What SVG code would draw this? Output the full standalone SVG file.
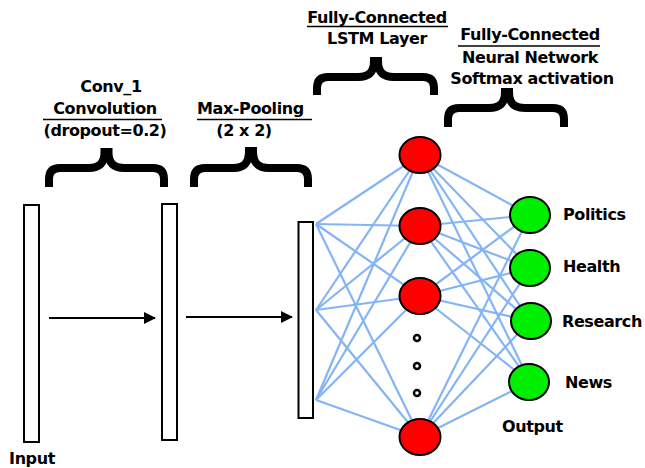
<svg xmlns="http://www.w3.org/2000/svg" width="645" height="468" viewBox="0 0 645 468">
<style>
.t{font-family:"DejaVu Sans","Liberation Sans",sans-serif;font-weight:bold;font-size:16px;letter-spacing:-0.4px;fill:#000}
.c{text-anchor:middle}
.ul{stroke:#000;stroke-width:1.5}
.brace{fill:none;stroke:#000;stroke-width:8;stroke-linejoin:miter}
.layer{fill:#fff;stroke:#000;stroke-width:2}
.red{fill:#ff0000;stroke:#000;stroke-width:2}
.green{fill:#00ee00;stroke:#000;stroke-width:2}
.dot{fill:#fff;stroke:#000;stroke-width:2.5}
.w{stroke:#85b4f5;stroke-width:2.2;fill:none}
.arr{stroke:#000;stroke-width:2;fill:none}
</style>
<defs>
<marker id="ah" markerWidth="12" markerHeight="12" refX="11" refY="6" orient="auto" markerUnits="userSpaceOnUse">
<path d="M0 0 L12 6 L0 12 Z" fill="#000"/>
</marker>
</defs>
<rect width="645" height="468" fill="#fff"/>

<g id="labels">
<text class="t c" x="111" y="92">Conv_1</text>
<text class="t c" x="105" y="114">Convolution</text>
<line class="ul" x1="43" y1="119.5" x2="162" y2="119.5"/>
<text class="t c" x="105" y="136">(dropout=0.2)</text>
<text class="t" x="197" y="114">Max-Pooling</text>
<line class="ul" x1="197" y1="119.5" x2="312" y2="119.5"/>
<text class="t c" x="244" y="136">(2 x 2)</text>
<text class="t c" x="377" y="23">Fully-Connected</text>
<line class="ul" x1="307" y1="26.5" x2="448" y2="26.5"/>
<text class="t c" x="377" y="44">LSTM Layer</text>
<text class="t c" x="530" y="40">Fully-Connected</text>
<line class="ul" x1="458" y1="46" x2="600" y2="46"/>
<text class="t c" x="530" y="63">Neural Network</text>
<text class="t c" x="532" y="84">Softmax activation</text>
</g>

<g id="braces">
<path class="brace" d="M49 187 V179 Q49 168 60 168 H88.5 C100.5 168 104.5 162 104.5 152 H108.5 C108.5 162 112.5 168 124.5 168 H153 Q164 168 164 179 V187"/>
<path class="brace" d="M194 187 V179 Q194 168 205 168 H233 C245 168 249 162 249 151 H253 C253 162 257 168 269 168 H297 Q308 168 308 179 V187"/>
<path class="brace" d="M317 95 V88 Q317 77 328 77 H358 C370 77 374 71 374 61 H378 C378 71 382 77 394 77 H423 Q434 77 434 88 V95"/>
<path class="brace" d="M448 127 V119 Q448 108 459 108 H489 C501 108 505 102 505 92 H509 C509 102 513 108 525 108 H553 Q564 108 564 119 V127"/>
</g>

<g id="connectors">
<line class="arr" x1="49" y1="318" x2="155" y2="318" marker-end="url(#ah)"/>
<line class="arr" x1="186" y1="317" x2="292" y2="317" marker-end="url(#ah)"/>
<g class="w">
<line x1="316" y1="224" x2="420" y2="155"/>
<line x1="316" y1="224" x2="420" y2="226"/>
<line x1="316" y1="224" x2="420" y2="296"/>
<line x1="316" y1="224" x2="420" y2="437"/>
<line x1="316" y1="310" x2="420" y2="155"/>
<line x1="316" y1="310" x2="420" y2="226"/>
<line x1="316" y1="310" x2="420" y2="296"/>
<line x1="316" y1="310" x2="420" y2="437"/>
<line x1="316" y1="400" x2="420" y2="155"/>
<line x1="316" y1="400" x2="420" y2="226"/>
<line x1="316" y1="400" x2="420" y2="296"/>
<line x1="316" y1="400" x2="420" y2="437"/>
<line x1="420" y1="155" x2="530" y2="215"/>
<line x1="420" y1="155" x2="530" y2="268"/>
<line x1="420" y1="155" x2="530" y2="321"/>
<line x1="420" y1="155" x2="530" y2="382"/>
<line x1="420" y1="226" x2="530" y2="215"/>
<line x1="420" y1="226" x2="530" y2="268"/>
<line x1="420" y1="226" x2="530" y2="321"/>
<line x1="420" y1="226" x2="530" y2="382"/>
<line x1="420" y1="296" x2="530" y2="215"/>
<line x1="420" y1="296" x2="530" y2="268"/>
<line x1="420" y1="296" x2="530" y2="321"/>
<line x1="420" y1="296" x2="530" y2="382"/>
<line x1="420" y1="437" x2="530" y2="215"/>
<line x1="420" y1="437" x2="530" y2="268"/>
<line x1="420" y1="437" x2="530" y2="321"/>
<line x1="420" y1="437" x2="530" y2="382"/>
</g>
</g>

<g id="input"><rect class="layer" x="24" y="205" width="15" height="237"/><text class="t c" x="32" y="464">Input</text></g>
<g id="conv"><rect class="layer" x="162" y="204" width="15" height="236"/></g>
<g id="pool"><rect class="layer" x="298.5" y="222" width="14.5" height="196"/></g>

<g id="lstm1"><ellipse class="red" cx="420" cy="155" rx="20.5" ry="18"/></g>
<g id="lstm2"><ellipse class="red" cx="420" cy="226" rx="20.5" ry="18"/></g>
<g id="lstm3"><ellipse class="red" cx="420" cy="296" rx="20.5" ry="18"/></g>
<g id="lstm4"><ellipse class="red" cx="420" cy="437" rx="20.5" ry="18"/></g>
<g id="dots">
<circle class="dot" cx="417" cy="338" r="3"/>
<circle class="dot" cx="417" cy="366" r="3"/>
<circle class="dot" cx="417" cy="393" r="3"/>
</g>

<g id="politics"><ellipse class="green" cx="530" cy="215" rx="20" ry="18"/><text class="t" x="563" y="220">Politics</text></g>
<g id="health"><ellipse class="green" cx="530" cy="268" rx="20" ry="18"/><text class="t" x="563" y="272">Health</text></g>
<g id="research"><ellipse class="green" cx="531" cy="321" rx="20" ry="18"/><text class="t" x="562" y="327">Research</text></g>
<g id="news"><ellipse class="green" cx="529" cy="382" rx="20" ry="18"/><text class="t" x="565" y="388">News</text></g>
<g id="output"><text class="t" x="502" y="432">Output</text></g>
</svg>
